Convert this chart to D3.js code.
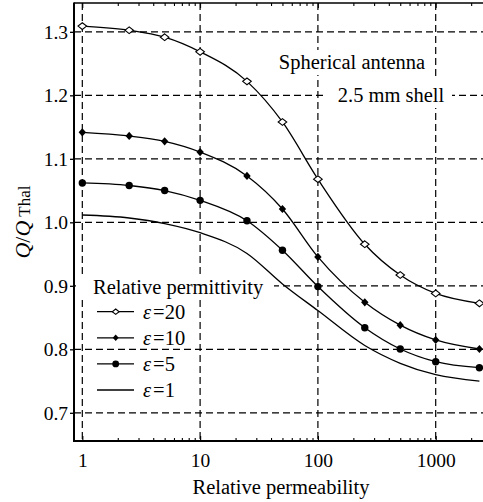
<!DOCTYPE html>
<html>
<head>
<meta charset="utf-8">
<script src="https://cdn.jsdelivr.net/npm/d3@7"></script>
<style>
  html, body { margin: 0; padding: 0; background: #fff; }
  svg { display: block; }
  svg text { font-family: "Liberation Serif", "Times New Roman", Times, serif !important; }
</style>
</head>
<body>
<svg id="chart" width="483" height="502"></svg>
<script>
// Relative permeability sample points (log axis)
const permeability = [1, 2.5, 5, 10, 25, 50, 100, 250, 500, 1000, 2350];

// Q / Q_Thal for each relative permittivity
const qEps20 = [1.309, 1.3025, 1.2915, 1.2685, 1.222, 1.158, 1.068, 0.9655, 0.917, 0.888, 0.8725];
const qEps10 = [1.1417, 1.136, 1.1275, 1.1107, 1.073, 1.021, 0.9455, 0.874, 0.838, 0.8147, 0.8005];
const qEps5  = [1.062, 1.058, 1.050, 1.0346, 1.0025, 0.956, 0.8988, 0.834, 0.8005, 0.7805, 0.771];
const qEps1  = [1.0115, 1.0068, 0.998, 0.9836, 0.951, 0.903, 0.861, 0.806, 0.778, 0.760, 0.750];

const seriesNames = ["\u03b5", "\u03b5", "\u03b5", "\u03b5"];
const seriesLabels = ["=20", "=10", "=5", "=1"];
const xTickValues = [1, 10, 100, 1000];
const xTickLabels = ["1", "10", "100", "1000"];
const yTickValues = [0.7, 0.8, 0.9, 1.0, 1.1, 1.2, 1.3];

const serif = "Liberation Serif, Times New Roman, Times, serif";
const svg = d3.select("#chart").attr("font-family", serif);
const plotLeft = 74, plotRight = 483, plotTop = 3, plotBottom = 441;

const x = d3.scaleLog().domain([0.85, 2521]).range([plotLeft, plotRight]);
const y = d3.scaleLinear().domain([0.6556, 1.3454]).range([plotBottom, plotTop]);

// dashed grid
const grid = svg.append("g").attr("stroke", "#000").attr("stroke-width", 1.2)
  .attr("stroke-dasharray", "7,4").attr("fill", "none");
grid.selectAll("line.v").data(xTickValues).join("line").attr("class", "v")
  .attr("x1", d => x(d)).attr("x2", d => x(d)).attr("y1", plotTop).attr("y2", plotBottom);
grid.selectAll("line.h").data(yTickValues).join("line").attr("class", "h")
  .attr("y1", d => y(d)).attr("y2", d => y(d)).attr("x1", plotLeft).attr("x2", plotRight);

// white boxes behind the annotations
const boxes = svg.append("g").attr("fill", "#fff");
boxes.append("rect").attr("x", 274).attr("y", 50).attr("width", 156).attr("height", 25);
boxes.append("rect").attr("x", 325).attr("y", 80).attr("width", 127).attr("height", 28);
boxes.append("rect").attr("x", 76).attr("y", 275).attr("width", 198).attr("height", 22);

// curves
const series = [
  { values: qEps20, marker: "openDiamond" },
  { values: qEps10, marker: "diamond" },
  { values: qEps5, marker: "circle" },
  { values: qEps1, marker: null }
];
const line = d3.line().x(d => x(d[0])).y(d => y(d[1])).curve(d3.curveMonotoneX);

function drawMarker(g, type, cx, cy, scale) {
  if (type === "openDiamond") {
    const w = 4.3 * scale, h = 3.4 * scale;
    g.append("path").attr("d", `M${cx},${cy - h}L${cx + w},${cy}L${cx},${cy + h}L${cx - w},${cy}Z`)
      .attr("fill", "#fff").attr("stroke", "#000").attr("stroke-width", 1.1);
  } else if (type === "diamond") {
    const w = 3.7 * scale, h = 4.1 * scale;
    g.append("path").attr("d", `M${cx},${cy - h}L${cx + w},${cy}L${cx},${cy + h}L${cx - w},${cy}Z`)
      .attr("fill", "#000");
  } else if (type === "circle") {
    g.append("circle").attr("cx", cx).attr("cy", cy).attr("r", 3.7 * scale).attr("fill", "#000");
  }
}

const plot = svg.append("g");
series.forEach(s => {
  const pts = permeability.map((p, i) => [p, s.values[i]]);
  plot.append("path").datum(pts).attr("d", line)
    .attr("fill", "none").attr("stroke", "#000").attr("stroke-width", 1.3);
});
series.forEach(s => {
  if (!s.marker) return;
  permeability.forEach((p, i) => drawMarker(plot, s.marker, x(p), y(s.values[i]), 1));
});

// axes
const axisFont = 19.5;
const yAxis = svg.append("g").attr("transform", `translate(${plotLeft},0)`)
  .call(d3.axisLeft(y).tickValues(yTickValues).tickFormat(d3.format(".1f")).tickSize(4).tickPadding(2));
yAxis.attr("font-family", serif);
yAxis.select(".domain").remove();
yAxis.selectAll("text").attr("font-size", axisFont).attr("fill", "#000");
yAxis.selectAll("line").attr("stroke-width", 1.3);

const minorTicks = [];
[1, 10, 100, 1000].forEach(dec => {
  for (let k = 2; k <= 9; k++) { const v = dec * k; if (v < 2521) minorTicks.push(v); }
});

const xAxis = svg.append("g").attr("transform", `translate(0,${plotBottom})`)
  .call(d3.axisBottom(x).tickValues(xTickValues).tickFormat((d, i) => xTickLabels[i])
    .tickSize(-5).tickPadding(12));
xAxis.attr("font-family", serif);
xAxis.select(".domain").remove();
xAxis.selectAll("text").attr("font-size", axisFont).attr("fill", "#000");
xAxis.selectAll("line").attr("stroke-width", 1.2);

const xMinor = svg.append("g").attr("transform", `translate(0,${plotBottom})`)
  .call(d3.axisBottom(x).tickValues(minorTicks).tickFormat("").tickSize(-3));
xMinor.select(".domain").remove();
xMinor.selectAll("line").attr("stroke-width", 1.1);

const topMajor = svg.append("g").attr("transform", `translate(0,${plotTop})`)
  .call(d3.axisTop(x).tickValues(xTickValues).tickFormat("").tickSize(-5));
topMajor.select(".domain").remove();
const topMinor = svg.append("g").attr("transform", `translate(0,${plotTop})`)
  .call(d3.axisTop(x).tickValues(minorTicks).tickFormat("").tickSize(-3));
topMinor.select(".domain").remove();
topMinor.selectAll("line").attr("stroke-width", 1.1);

// frame lines
svg.append("line").attr("x1", plotLeft).attr("x2", plotLeft).attr("y1", plotTop - 0.5).attr("y2", plotBottom + 1)
  .attr("stroke", "#000").attr("stroke-width", 2);
svg.append("line").attr("x1", plotLeft).attr("x2", plotRight).attr("y1", plotBottom).attr("y2", plotBottom)
  .attr("stroke", "#000").attr("stroke-width", 2);
svg.append("line").attr("x1", plotLeft).attr("x2", plotRight).attr("y1", plotTop).attr("y2", plotTop)
  .attr("stroke", "#000").attr("stroke-width", 1.4);

// axis titles
svg.append("text").attr("x", 281).attr("y", 494).attr("text-anchor", "middle")
  .attr("font-size", 20.5).attr("fill", "#000").text("Relative permeability");

const yTitle = svg.append("text").attr("transform", "translate(30,222) rotate(-90)")
  .attr("text-anchor", "middle").attr("font-size", 22).attr("fill", "#000");
yTitle.append("tspan").attr("font-style", "italic").text("Q");
yTitle.append("tspan").text("/");
yTitle.append("tspan").attr("font-style", "italic").text("Q");
yTitle.append("tspan").attr("font-size", 17).attr("dx", 4).text("Thal");

// annotations
svg.append("text").attr("x", 352).attr("y", 68.5).attr("text-anchor", "middle")
  .attr("font-size", 20.5).attr("fill", "#000").text("Spherical antenna");
svg.append("text").attr("x", 391).attr("y", 102).attr("text-anchor", "middle")
  .attr("font-size", 20.5).attr("fill", "#000").text("2.5 mm shell");

// legend
const legend = svg.append("g");
legend.append("text").attr("x", 93).attr("y", 293.5).attr("font-size", 20.5).attr("fill", "#000")
  .text("Relative permittivity");
const legendY0 = 311.7, legendStep = 26.1;
series.forEach((s, i) => {
  const cy = legendY0 + i * legendStep;
  legend.append("line").attr("x1", 97).attr("x2", 134).attr("y1", cy).attr("y2", cy)
    .attr("stroke", "#000").attr("stroke-width", 1.3);
  if (s.marker) drawMarker(legend, s.marker, 115.7, cy, s.marker === "circle" ? 0.92 : 0.8);
  const t = legend.append("text").attr("x", 143).attr("y", cy + 7).attr("font-size", 20.5).attr("fill", "#000");
  t.append("tspan").attr("font-style", "italic").text(seriesNames[i]);
  t.append("tspan").attr("dx", 2).text(seriesLabels[i]);
});
</script>
</body>
</html>
